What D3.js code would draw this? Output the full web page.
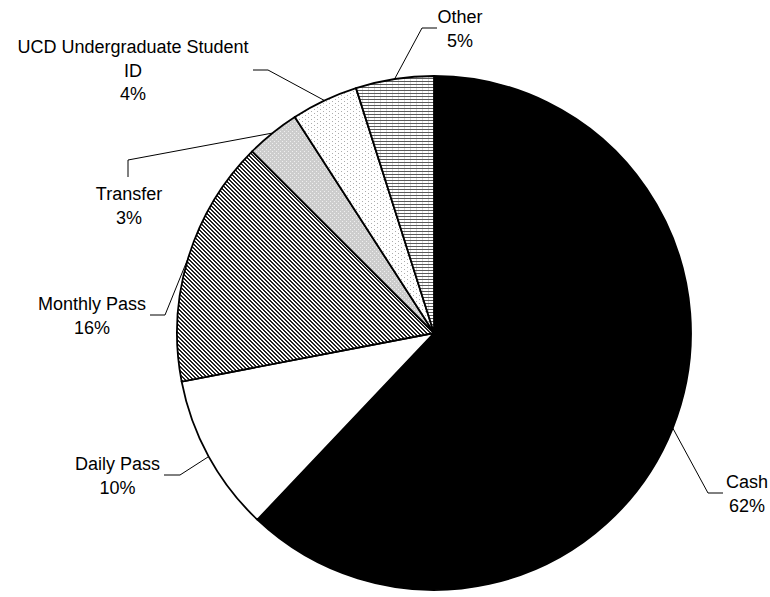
<!DOCTYPE html>
<html>
<head>
<meta charset="utf-8">
<script src="https://cdn.jsdelivr.net/npm/d3@7"></script>
<style>
  html, body { margin: 0; padding: 0; background: #fff; }
  svg { display: block; }
  text { font-family: "Liberation Sans", Arial, sans-serif; font-size: 18px; fill: #000; }
</style>
</head>
<body>
<svg id="chart" width="770" height="597"></svg>
<script>
// Fare payment types, clockwise from 12 o'clock
const categories = ["Cash", "Daily Pass", "Monthly Pass", "Transfer", "UCD Undergraduate Student ID", "Other"];
const shares = [62.0, 9.9, 15.5, 3.4, 4.2, 4.9];
// Label text lines (category split for wrapping)
const labelLines = [["Cash"], ["Daily Pass"], ["Monthly Pass"], ["Transfer"], ["UCD Undergraduate Student", "ID"], ["Other"]];

// Label placement: centre x, first baseline, leader end (at label) and elbow
const labelLayout = [
  { x: 747, y: 488, end: [723, 493], elbow: [708, 493] },
  { x: 117.5, y: 470, end: [164, 475], elbow: [180, 475] },
  { x: 92, y: 310, end: [150, 315], elbow: [165, 315] },
  { x: 129, y: 200, end: [128, 177], elbow: [128, 160] },
  { x: 133, y: 53, end: [253, 70], elbow: [268, 70] },
  { x: 460, y: 23, end: [437, 28], elbow: [422, 28] }
];
const lineHeight = 23.5;

const svg = d3.select("#chart");
const cx = 434, cy = 333, radius = 257;

// Fill patterns
const defs = svg.append("defs");

// dense diagonal hatch
const pMonthly = defs.append("pattern").attr("id", "pMonthly")
  .attr("patternUnits", "userSpaceOnUse").attr("width", 4).attr("height", 4);
pMonthly.append("rect").attr("width", 4).attr("height", 4).attr("fill", "#fff");
for (let y = 0; y < 4; y++) {
  for (let k = 0; k < 2; k++) {
    pMonthly.append("rect").attr("x", (y + k) % 4).attr("y", y)
      .attr("width", 1).attr("height", 1).attr("fill", "#222");
  }
}

// light grey stipple
const pTransfer = defs.append("pattern").attr("id", "pTransfer")
  .attr("patternUnits", "userSpaceOnUse").attr("width", 4).attr("height", 4);
pTransfer.append("rect").attr("width", 4).attr("height", 4).attr("fill", "#cdcdcd");
pTransfer.append("rect").attr("x", 0).attr("y", 0).attr("width", 1).attr("height", 1).attr("fill", "#efefef");
pTransfer.append("rect").attr("x", 2).attr("y", 2).attr("width", 1).attr("height", 1).attr("fill", "#efefef");

// sparse dots
const pUcd = defs.append("pattern").attr("id", "pUcd")
  .attr("patternUnits", "userSpaceOnUse").attr("width", 6).attr("height", 4);
pUcd.append("rect").attr("width", 6).attr("height", 4).attr("fill", "#fff");
pUcd.append("rect").attr("x", 0).attr("y", 0).attr("width", 1).attr("height", 1).attr("fill", "#adadad");
pUcd.append("rect").attr("x", 3).attr("y", 2).attr("width", 1).attr("height", 1).attr("fill", "#adadad");

// narrow horizontal lines
const pOther = defs.append("pattern").attr("id", "pOther")
  .attr("patternUnits", "userSpaceOnUse").attr("width", 6).attr("height", 3);
pOther.append("rect").attr("width", 6).attr("height", 3).attr("fill", "#fff");
pOther.append("rect").attr("x", 0).attr("y", 0).attr("width", 1).attr("height", 3).attr("fill", "#d8d8d8");
pOther.append("rect").attr("x", 0).attr("y", 0).attr("width", 6).attr("height", 1).attr("fill", "#5a5a5a");

const fills = ["#000", "#fff", "url(#pMonthly)", "url(#pTransfer)", "url(#pUcd)", "url(#pOther)"];

const data = categories.map((c, i) => ({ category: c, value: shares[i], i }));
const total = d3.sum(shares);

const pie = d3.pie().sort(null).value(d => d.value).startAngle(0).endAngle(2 * Math.PI);
const arcs = pie(data);
const arc = d3.arc().innerRadius(0).outerRadius(radius);

const g = svg.append("g").attr("transform", `translate(${cx},${cy})`);

g.selectAll("path.slice")
  .data(arcs)
  .join("path")
  .attr("class", "slice")
  .attr("d", arc)
  .attr("fill", d => fills[d.data.i])
  .attr("stroke", "#000")
  .attr("stroke-width", 1.8)
  .attr("stroke-linejoin", "round");

// Leader lines: from the slice edge at its mid-angle to the label
const leader = d3.line();
svg.selectAll("path.leader")
  .data(arcs)
  .join("path")
  .attr("class", "leader")
  .attr("fill", "none")
  .attr("stroke", "#000")
  .attr("stroke-width", 1)
  .attr("d", d => {
    const a = (d.startAngle + d.endAngle) / 2;
    const p = [cx + radius * Math.sin(a), cy - radius * Math.cos(a)];
    const L = labelLayout[d.data.i];
    return leader([p, L.elbow, L.end]);
  });

// Labels: category name and rounded percentage
const labels = svg.selectAll("text.label")
  .data(arcs)
  .join("text")
  .attr("class", "label")
  .attr("text-anchor", "middle")
  .attr("x", d => labelLayout[d.data.i].x)
  .attr("y", d => labelLayout[d.data.i].y);

labels.each(function(d) {
  const L = labelLayout[d.data.i];
  const lines = labelLines[d.data.i].concat([Math.round(d.data.value / total * 100) + "%"]);
  d3.select(this).selectAll("tspan")
    .data(lines)
    .join("tspan")
    .attr("x", L.x)
    .attr("y", (t, k) => L.y + k * lineHeight)
    .text(t => t);
});
</script>
</body>
</html>
